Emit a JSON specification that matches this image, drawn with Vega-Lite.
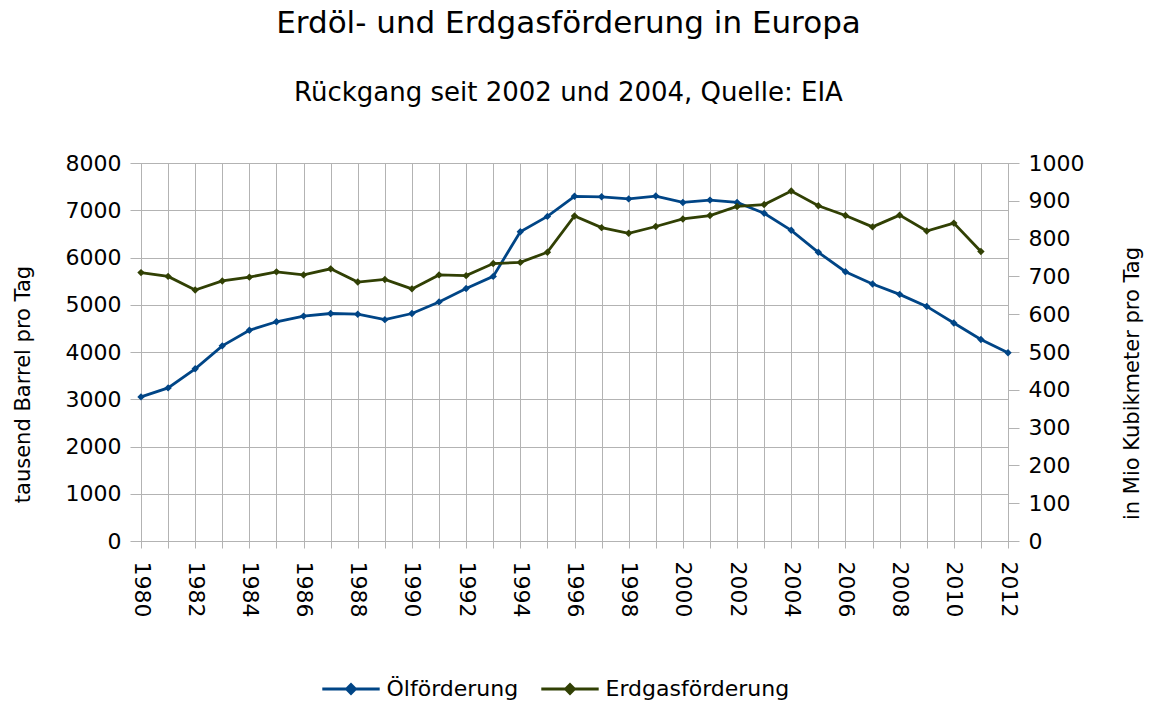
{
  "$schema": "https://vega.github.io/schema/vega-lite/v6.json",
  "width": 867,
  "height": 378,
  "autosize": {"type": "none"},
  "padding": {"left": 141, "top": 163, "right": 143, "bottom": 165},
  "background": "white",
  "title": {
    "text": "Erdöl- und Erdgasförderung in Europa",
    "subtitle": "Rückgang seit 2002 und 2004, Quelle: EIA",
    "anchor": "middle",
    "frame": "group",
    "dx": -6,
    "font": "DejaVu Sans",
    "fontSize": 31,
    "fontWeight": "normal",
    "color": "black",
    "subtitleFont": "DejaVu Sans",
    "subtitleFontSize": 26,
    "subtitleColor": "black",
    "subtitlePadding": 40,
    "offset": 45
  },
  "data": {
    "values": [
      {"year": 1980, "oil": 3050, "gas": 710},
      {"year": 1981, "oil": 3240, "gas": 700},
      {"year": 1982, "oil": 3645, "gas": 664},
      {"year": 1983, "oil": 4130, "gas": 688},
      {"year": 1984, "oil": 4460, "gas": 698},
      {"year": 1985, "oil": 4640, "gas": 712},
      {"year": 1986, "oil": 4760, "gas": 704},
      {"year": 1987, "oil": 4815, "gas": 720},
      {"year": 1988, "oil": 4800, "gas": 685},
      {"year": 1989, "oil": 4685, "gas": 692},
      {"year": 1990, "oil": 4815, "gas": 667},
      {"year": 1991, "oil": 5060, "gas": 704},
      {"year": 1992, "oil": 5345, "gas": 702},
      {"year": 1993, "oil": 5600, "gas": 734},
      {"year": 1994, "oil": 6545, "gas": 737},
      {"year": 1995, "oil": 6870, "gas": 764},
      {"year": 1996, "oil": 7295, "gas": 860},
      {"year": 1997, "oil": 7285, "gas": 829},
      {"year": 1998, "oil": 7240, "gas": 814},
      {"year": 1999, "oil": 7300, "gas": 832},
      {"year": 2000, "oil": 7165, "gas": 852},
      {"year": 2001, "oil": 7215, "gas": 861},
      {"year": 2002, "oil": 7165, "gas": 885},
      {"year": 2003, "oil": 6935, "gas": 890},
      {"year": 2004, "oil": 6575, "gas": 926},
      {"year": 2005, "oil": 6110, "gas": 887},
      {"year": 2006, "oil": 5700, "gas": 861},
      {"year": 2007, "oil": 5440, "gas": 831},
      {"year": 2008, "oil": 5220, "gas": 862},
      {"year": 2009, "oil": 4965, "gas": 820},
      {"year": 2010, "oil": 4615, "gas": 841},
      {"year": 2011, "oil": 4265, "gas": 766},
      {"year": 2012, "oil": 3985, "gas": null}
    ]
  },
  "encoding": {
    "x": {
      "field": "year",
      "type": "quantitative",
      "scale": {"domain": [1980, 2012], "nice": false, "zero": false},
      "axis": {
        "title": null,
        "values": [1980,1981,1982,1983,1984,1985,1986,1987,1988,1989,1990,1991,1992,1993,1994,1995,1996,1997,1998,1999,2000,2001,2002,2003,2004,2005,2006,2007,2008,2009,2010,2011,2012],
        "format": "d",
        "labelExpr": "datum.value % 2 === 0 ? datum.label : ''",
        "labelAngle": 90,
        "labelAlign": "left",
        "labelBaseline": "middle",
        "labelPadding": 13,
        "tickSize": 7,
        "grid": true,
        "labelOverlap": false,
        "labelFlush": false
      }
    }
  },
  "layer": [
    {
      "mark": {"type": "line", "strokeWidth": 2.8, "point": {"shape": "diamond", "filled": true, "size": 55}},
      "encoding": {
        "y": {
          "field": "oil",
          "type": "quantitative",
          "scale": {"domain": [0, 8000], "nice": false},
          "axis": {
            "orient": "left",
            "title": "tausend Barrel pro Tag",
            "values": [0,1000,2000,3000,4000,5000,6000,7000,8000],
            "format": "d",
            "grid": true,
            "tickSize": 11,
            "labelPadding": 9,
            "labelFlush": false,
            "labelOverlap": false,
            "titleAngle": -90,
            "titleAlign": "center",
            "titleBaseline": "middle",
            "titleX": -118,
            "titleY": 221
          }
        },
        "color": {
          "datum": "Ölförderung",
          "type": "nominal",
          "scale": {"domain": ["Ölförderung", "Erdgasförderung"], "range": ["#004586", "#314004"]},
          "legend": {
            "orient": "none",
            "legendX": 199,
            "legendY": 515,
            "direction": "horizontal",
            "title": null,
            "symbolType": "M-5.74,0L5.74,0M0,-0.9L0.9,0L0,0.9L-0.9,0Z",
            "symbolSize": 100,
            "symbolStrokeWidth": 2.8,
            "labelFont": "DejaVu Sans",
            "labelFontSize": 22,
            "labelColor": "black",
            "labelLimit": 0,
            "labelOffset": 24.5,
            "columnPadding": 16,
            "padding": 0,
            "encode": {"symbols": {"update": {"fill": {"scale": "color", "field": "value"}, "stroke": {"scale": "color", "field": "value"}, "opacity": {"value": 1}}}}
          }
        }
      }
    },
    {
      "mark": {"type": "line", "strokeWidth": 2.8, "point": {"shape": "diamond", "filled": true, "size": 55}},
      "encoding": {
        "y": {
          "field": "gas",
          "type": "quantitative",
          "scale": {"domain": [0, 1000], "nice": false},
          "axis": {
            "orient": "right",
            "title": "in Mio Kubikmeter pro Tag",
            "values": [0,100,200,300,400,500,600,700,800,900,1000],
            "format": "d",
            "grid": false,
            "tickSize": 11,
            "labelPadding": 9,
            "labelFlush": false,
            "labelOverlap": false,
            "titleAngle": -90,
            "titleAlign": "center",
            "titleBaseline": "middle",
            "titleX": 124,
            "titleY": 220
          }
        },
        "color": {
          "datum": "Erdgasförderung",
          "type": "nominal"
        }
      }
    }
  ],
  "resolve": {"scale": {"y": "independent"}},
  "config": {
    "view": {"stroke": "#b3b3b3"},
    "axis": {
      "labelFont": "DejaVu Sans",
      "labelFontSize": 22,
      "labelColor": "black",
      "titleFont": "DejaVu Sans",
      "titleFontSize": 21,
      "titleFontWeight": "normal",
      "titleColor": "black",
      "gridColor": "#b3b3b3",
      "gridOpacity": 1,
      "domainColor": "#b3b3b3",
      "tickColor": "#b3b3b3"
    }
  }
}
